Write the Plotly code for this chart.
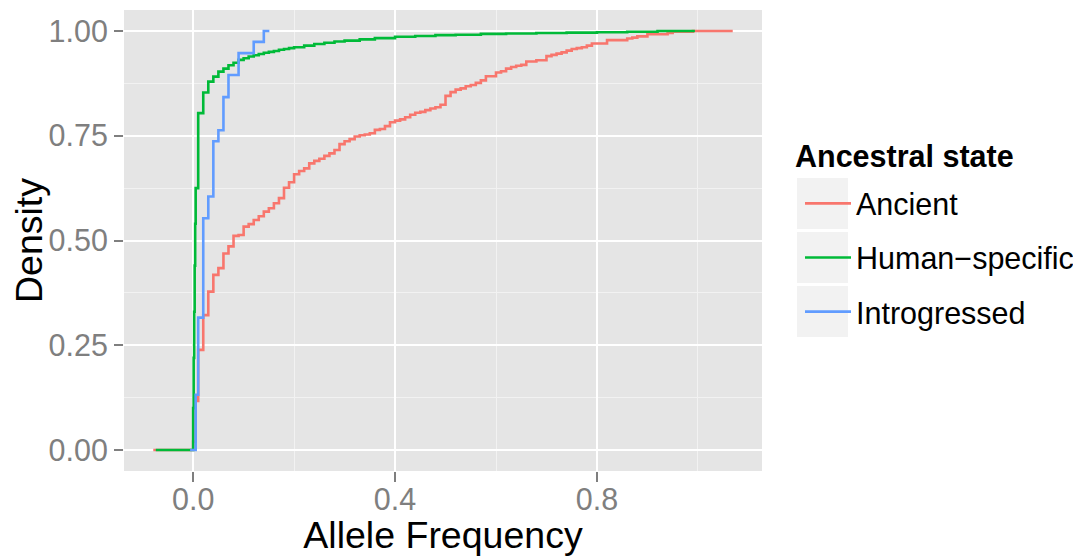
import plotly.graph_objects as go

# ---------------- data ----------------
series_names = ["Ancient", "Human\u2212specific", "Introgressed"]
series_colors = ["#F8766D", "#00BA38", "#619CFF"]

ancient_x = [-0.079, 0.0, 0.005, 0.01, 0.02, 0.03, 0.04, 0.05, 0.06, 0.07, 0.08, 0.09,
             0.10, 0.11, 0.12, 0.13, 0.14, 0.15, 0.16, 0.17, 0.18, 0.19, 0.20, 0.21,
             0.22, 0.23, 0.24, 0.25, 0.26, 0.27, 0.28, 0.29, 0.30, 0.31, 0.32, 0.33,
             0.34, 0.35, 0.36, 0.37, 0.38, 0.39, 0.40, 0.41, 0.42, 0.43, 0.44, 0.45,
             0.46, 0.47, 0.48, 0.49, 0.50, 0.51, 0.52, 0.53, 0.54, 0.55, 0.56, 0.57,
             0.58, 0.60, 0.61, 0.62, 0.63, 0.64, 0.65, 0.66, 0.68, 0.70, 0.71, 0.72,
             0.73, 0.74, 0.75, 0.76, 0.77, 0.78, 0.79, 0.82, 0.86, 0.87, 0.88, 0.90,
             0.94, 0.95, 0.99, 1.069]
ancient_y = [0.0, 0.02, 0.117, 0.239, 0.322, 0.378, 0.418, 0.434, 0.469, 0.486, 0.511, 0.513,
             0.533, 0.539, 0.549, 0.558, 0.569, 0.577, 0.589, 0.601, 0.626, 0.639, 0.658, 0.666,
             0.672, 0.684, 0.690, 0.695, 0.702, 0.708, 0.716, 0.730, 0.737, 0.742, 0.748, 0.751,
             0.753, 0.756, 0.764, 0.766, 0.773, 0.782, 0.786, 0.789, 0.794, 0.800, 0.805, 0.807,
             0.811, 0.815, 0.818, 0.824, 0.845, 0.854, 0.860, 0.863, 0.868, 0.871, 0.876, 0.882,
             0.892, 0.901, 0.904, 0.910, 0.914, 0.917, 0.919, 0.927, 0.930, 0.940, 0.943, 0.946,
             0.949, 0.953, 0.957, 0.959, 0.961, 0.965, 0.970, 0.978, 0.982, 0.984, 0.987, 0.992,
             0.995, 0.998, 1.0, 1.0]

human_x = [-0.074, 0.0, 0.001, 0.002, 0.003, 0.004, 0.005, 0.01, 0.02, 0.03, 0.04, 0.05,
           0.06, 0.07, 0.08, 0.09, 0.10, 0.11, 0.12, 0.13, 0.14, 0.15, 0.16, 0.17, 0.18,
           0.19, 0.20, 0.22, 0.24, 0.26, 0.28, 0.30, 0.33, 0.36, 0.40, 0.44, 0.48, 0.52,
           0.57, 0.62, 0.68, 0.74, 0.80, 0.86, 0.92, 0.994]
human_y = [0.0, 0.10, 0.22, 0.33, 0.44, 0.54, 0.625, 0.804, 0.853, 0.879, 0.891, 0.903,
           0.910, 0.918, 0.924, 0.931, 0.935, 0.939, 0.942, 0.945, 0.948, 0.950, 0.952, 0.955, 0.957,
           0.959, 0.961, 0.965, 0.969, 0.972, 0.975, 0.977, 0.980, 0.983, 0.986, 0.988, 0.990, 0.991,
           0.993, 0.994, 0.995, 0.996, 0.997, 0.998, 1.0, 1.0]

introgressed_x = [-0.006, 0.005, 0.01, 0.02, 0.03, 0.04, 0.05, 0.06, 0.07, 0.09, 0.12, 0.14, 0.151]
introgressed_y = [0.0, 0.132, 0.316, 0.553, 0.605, 0.737, 0.763, 0.842, 0.895, 0.947, 0.974, 1.0, 1.0]

x_ticks = [0.0, 0.4, 0.8]
x_tick_labels = ["0.0", "0.4", "0.8"]
y_ticks = [0.0, 0.25, 0.5, 0.75, 1.0]
y_tick_labels = ["0.00", "0.25", "0.50", "0.75", "1.00"]

legend_title = "Ancestral state"
x_title = "Allele Frequency"
y_title = "Density"

# ---------------- layout geometry (screen px; page body has an 8px margin) ----------------
OFF = 8
W, H = 1081 - OFF, 556 - OFF
P_LEFT, P_RIGHT, P_TOP, P_BOTTOM = 124, 762, 10, 471
ML, MT = P_LEFT - OFF, P_TOP - OFF
MR, MB = (OFF + W) - P_RIGHT, (OFF + H) - P_BOTTOM
PW, PH = P_RIGHT - P_LEFT, P_BOTTOM - P_TOP
FONT = "Liberation Sans, Arial, Helvetica, sans-serif"
SMALL, LARGE = 30.5, 37.5


def sx(px):
    return (px - P_LEFT) / PW


def sy(py):
    return (P_BOTTOM - py) / PH


fig = go.Figure()
xs = [ancient_x, human_x, introgressed_x]
ys = [ancient_y, human_y, introgressed_y]
for name, col, x, y in zip(series_names, series_colors, xs, ys):
    fig.add_trace(go.Scatter(x=x, y=y, mode="lines", name=name, legendgroup=name,
                             line=dict(color=col, width=2.6, shape="hv")))

# legend key backgrounds (ggplot-style grey boxes)
key_tops = [178, 232, 286]
shapes = []
for t in key_tops:
    shapes.append(dict(type="rect", xref="paper", yref="paper",
                       x0=sx(797), x1=sx(848), y0=sy(t), y1=sy(t + 51),
                       fillcolor="#F2F2F2", line=dict(width=0), layer="below"))

annotations = [dict(text="<b>%s</b>" % legend_title, xref="paper", yref="paper",
                    x=sx(793), y=sy(156), xanchor="left", yanchor="middle", showarrow=False,
                    font=dict(family=FONT, size=SMALL, color="black"))]

axis_common = dict(showline=False, zeroline=False, ticks="outside",
                   tickwidth=2, tickcolor="#7F7F7F", gridcolor="white", gridwidth=2,
                   tickfont=dict(family=FONT, size=SMALL, color="#7F7F7F"))

fig.update_layout(
    width=W, height=H,
    margin=dict(l=ML, r=MR, t=MT, b=MB, autoexpand=False),
    paper_bgcolor="white", plot_bgcolor="#E5E5E5",
    font=dict(family=FONT, color="black"),
    shapes=shapes, annotations=annotations,
    legend=dict(x=sx(800), y=sy(177), xanchor="left", yanchor="top",
                bgcolor="rgba(0,0,0,0)", tracegroupgap=11.5, itemwidth=46,
                font=dict(family=FONT, size=SMALL, color="black")),
    xaxis=dict(range=[-0.137, 1.127], tickvals=x_ticks, ticktext=x_tick_labels,
               ticklen=10, ticklabelstandoff=-9,
               minor=dict(dtick=0.2, tick0=0, showgrid=True, gridcolor="#F2F2F2", gridwidth=1, ticks=""),
               title=dict(text=x_title, font=dict(family=FONT, size=LARGE), standoff=0),
               **axis_common),
    yaxis=dict(range=[-0.05, 1.05], tickvals=y_ticks, ticktext=y_tick_labels,
               ticklen=9,
               minor=dict(dtick=0.125, tick0=0, showgrid=True, gridcolor="#F2F2F2", gridwidth=1, ticks=""),
               title=dict(text=y_title, font=dict(family=FONT, size=LARGE), standoff=4),
               **axis_common),
)

fig.write_html("out.html")
